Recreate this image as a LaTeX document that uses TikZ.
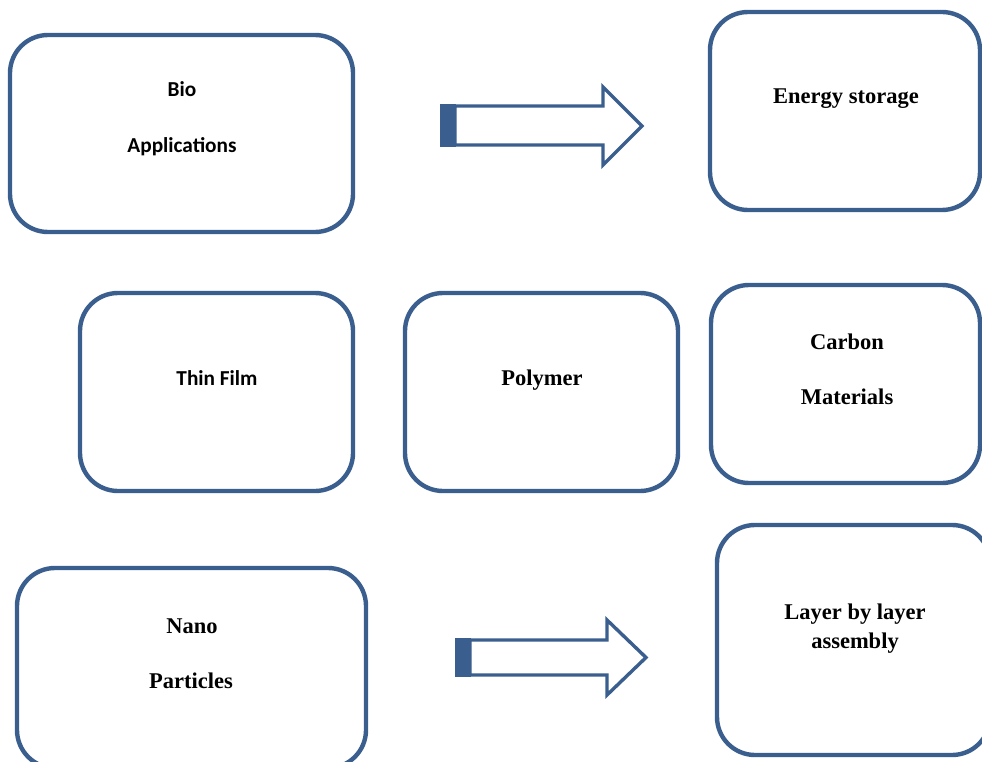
\documentclass[tikz,border=0pt]{standalone}
\usepackage{fontspec}
\setmainfont{Liberation Serif}
\newfontfamily\calib{Carlito}
\definecolor{boxblue}{HTML}{3A5F8F}
\begin{document}
\begin{tikzpicture}[x=1pt,y=-1pt,
  rbox/.style={draw=boxblue, line width=4.4pt, rounded corners=38pt, inner sep=0pt},
  sanslbl/.style={anchor=base, inner sep=0pt, font=\calib\bfseries\fontsize{21.3}{25}\selectfont},
  seriflbl/.style={anchor=base, inner sep=0pt, font=\bfseries\fontsize{22.5}{27}\selectfont},
  blockarrow/.style={draw=boxblue, line width=3.4pt, line join=miter, fill=white}]
\useasboundingbox (0,0) rectangle (982,762);
% boxes
\node[rbox, minimum width=343pt, minimum height=197pt] (bio) at (181.5,133.5) {};
\node[rbox, minimum width=270pt, minimum height=198pt] (energy) at (845,111) {};
\node[rbox, minimum width=273pt, minimum height=198pt] (thin) at (216.5,392) {};
\node[rbox, minimum width=273pt, minimum height=198pt] (poly) at (541.5,392) {};
\node[rbox, minimum width=269pt, minimum height=198pt] (carbon) at (845.5,384) {};
\node[rbox, minimum width=349pt, minimum height=200pt] (nano) at (191.5,668) {};
\node[rbox, minimum width=273pt, minimum height=230pt] (layer) at (853.5,640) {};
% labels
\node[sanslbl] (t1) at (182,97) {Bio};
\node[sanslbl] (t2) at (182,153) {Applications};
\node[seriflbl] (t3) at (846,104) {Energy storage};
\node[sanslbl] (t4) at (217,385) {Thin Film};
\node[seriflbl] (t5) at (542,385) {Polymer};
\node[seriflbl] (t6) at (847,349) {Carbon};
\node[seriflbl] (t7) at (847,404) {Materials};
\node[seriflbl] (t8) at (192,633) {Nano};
\node[seriflbl] (t9) at (191,688) {Particles};
\node[seriflbl] (t10) at (855,619) {Layer by layer};
\node[seriflbl] (t11) at (855,648) {assembly};
% block arrows
\draw[blockarrow] (455,106) -- (603,106) -- (603,87) -- (642,126) -- (603,165) -- (603,145) -- (455,145) -- cycle;
\fill[boxblue] (440,104.3) rectangle (456,146.7);
\draw[blockarrow] (470,640) -- (607,640) -- (607,620) -- (646,657.5) -- (607,695) -- (607,675) -- (470,675) -- cycle;
\fill[boxblue] (455,638.3) rectangle (471,676.7);
\end{tikzpicture}
\end{document}
